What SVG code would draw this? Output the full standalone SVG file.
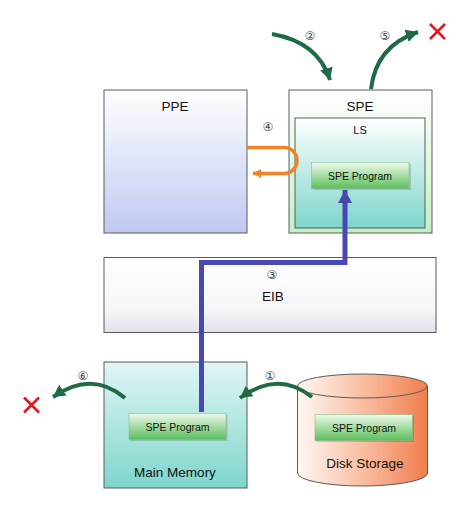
<svg xmlns="http://www.w3.org/2000/svg" width="467" height="508" viewBox="0 0 467 508">
<style>
.box{stroke:#5a5a5a;stroke-width:1}
.lbl{font-family:"Liberation Sans",Arial,sans-serif;font-size:13.5px;fill:#111;text-anchor:middle}
.prog{font-family:"Liberation Sans",Arial,sans-serif;font-size:10.5px;fill:#111;text-anchor:middle}
.num{font-family:"DejaVu Sans","Noto Sans",sans-serif;font-size:12px;fill:#444;text-anchor:middle}
.garrow{fill:none;stroke:#1d6b45;stroke-width:4;marker-end:url(#gh)}
.cross{stroke:#e8141e;stroke-width:2.6;stroke-linecap:butt}
</style>
<defs>
<linearGradient id="gPPE" x1="0" y1="0" x2="0" y2="1"><stop offset="0" stop-color="#ffffff"/><stop offset="1" stop-color="#c0c8f2"/></linearGradient>
<linearGradient id="gSPE" x1="0" y1="0" x2="0" y2="1"><stop offset="0" stop-color="#ffffff"/><stop offset="1" stop-color="#c2f0c2"/></linearGradient>
<linearGradient id="gLS" x1="0" y1="0" x2="0" y2="1"><stop offset="0" stop-color="#ffffff"/><stop offset="1" stop-color="#7dd6cc"/></linearGradient>
<linearGradient id="gEIB" x1="0" y1="0" x2="0" y2="1"><stop offset="0" stop-color="#ffffff"/><stop offset="0.7" stop-color="#f6f6f9"/><stop offset="1" stop-color="#e2e2ea"/></linearGradient>
<linearGradient id="gMM" x1="0" y1="0" x2="0" y2="1"><stop offset="0" stop-color="#e2f5f4"/><stop offset="1" stop-color="#7dd6cc"/></linearGradient>
<linearGradient id="gDisk" x1="0" y1="0" x2="1" y2="0"><stop offset="0" stop-color="#fff8f4"/><stop offset="0.55" stop-color="#f9b89a"/><stop offset="1" stop-color="#f07d4c"/></linearGradient>
<linearGradient id="gProg" x1="0" y1="0" x2="0" y2="1"><stop offset="0" stop-color="#eefaea"/><stop offset="1" stop-color="#5cbf5c"/></linearGradient>
<marker id="gh" markerUnits="userSpaceOnUse" markerWidth="14" markerHeight="14" refX="12" refY="6.5" orient="auto"><path d="M0,0 L12,6.5 L0,13 Z" fill="#1d6b45"/></marker>
<marker id="oh" markerUnits="userSpaceOnUse" markerWidth="10" markerHeight="10" refX="8" refY="4.5" orient="auto"><path d="M0,0 L8,4.5 L0,9 Z" fill="#f0822a"/></marker>
<marker id="bh" markerUnits="userSpaceOnUse" markerWidth="16" markerHeight="16" refX="13" refY="7" orient="auto"><path d="M0,0 L13,7 L0,14 Z" fill="#4848b4"/></marker>
</defs>

<g id="ppe">
<rect class="box" x="104" y="90" width="143" height="143" fill="url(#gPPE)"/>
<text class="lbl" x="175" y="111">PPE</text>
</g>

<g id="spe">
<rect class="box" x="289" y="90" width="143" height="143" fill="url(#gSPE)"/>
<text class="lbl" x="360" y="111">SPE</text>
</g>

<g id="ls">
<rect class="box" x="295" y="118" width="130" height="110" fill="url(#gLS)"/>
<text class="lbl" x="360" y="134" style="font-size:11px">LS</text>
</g>

<g id="eib">
<rect class="box" x="104" y="257.5" width="332" height="75" fill="url(#gEIB)"/>
<text class="lbl" x="273" y="301">EIB</text>
</g>

<g id="mainmemory">
<rect class="box" x="104" y="362" width="143" height="126" fill="url(#gMM)"/>
<text class="lbl" x="175" y="477">Main Memory</text>
</g>

<g id="disk">
<path d="M297.5,386 V473 A65,13 0 0 0 427.5,473 V386" fill="url(#gDisk)" stroke="#5a5a5a" stroke-width="1"/>
<ellipse cx="362.5" cy="386" rx="65" ry="12" fill="url(#gDisk)" stroke="#5a5a5a" stroke-width="1"/>
<text class="lbl" x="365" y="468">Disk Storage</text>
</g>

<g id="prog-ls">
<rect x="313" y="164" width="98" height="26" fill="#000" opacity="0.15"/>
<rect x="311.5" y="162.5" width="97.5" height="26" fill="url(#gProg)" stroke="#8ab88a" stroke-width="0.6"/>
<text class="prog" x="360" y="179.5">SPE Program</text>
</g>

<g id="prog-mm">
<rect x="130.5" y="415" width="97" height="26" fill="#000" opacity="0.15"/>
<rect x="129" y="413.5" width="97" height="26" fill="url(#gProg)" stroke="#8ab88a" stroke-width="0.6"/>
<text class="prog" x="177.5" y="430.5">SPE Program</text>
</g>

<g id="prog-disk">
<rect x="316.5" y="416" width="97.5" height="26" fill="#000" opacity="0.15"/>
<rect x="315" y="414.5" width="97.5" height="26" fill="url(#gProg)" stroke="#8ab88a" stroke-width="0.6"/>
<text class="prog" x="364" y="431.5">SPE Program</text>
</g>

<g id="connectors">
<path d="M201.5,412 V262.5 H345 V190" fill="none" stroke="#4848b4" stroke-width="5" marker-end="url(#bh)"/>
<path d="M247,147.5 H284 A13,13 0 0 1 284,173.5 H253" fill="none" stroke="#f0822a" stroke-width="3.5" marker-end="url(#oh)"/>
<path class="garrow" d="M272,34 Q318,42 330,80"/>
<path class="garrow" d="M371,89 Q376,46 418,32"/>
<path class="garrow" d="M312,397 Q278,370 240,398"/>
<path class="garrow" d="M125,398 Q92,370 53,397"/>
</g>

<g id="labels">
<text class="num" x="310" y="40">②</text>
<text class="num" x="385" y="40">⑤</text>
<text class="num" x="268" y="131">④</text>
<text class="num" x="272" y="279">③</text>
<text class="num" x="270" y="380">①</text>
<text class="num" x="83" y="380">⑥</text>
</g>

<g id="crosses">
<path class="cross" d="M430,24 L445,39 M445,24 L430,39"/>
<path class="cross" d="M24,397.5 L39,412.5 M39,397.5 L24,412.5"/>
</g>
</svg>
